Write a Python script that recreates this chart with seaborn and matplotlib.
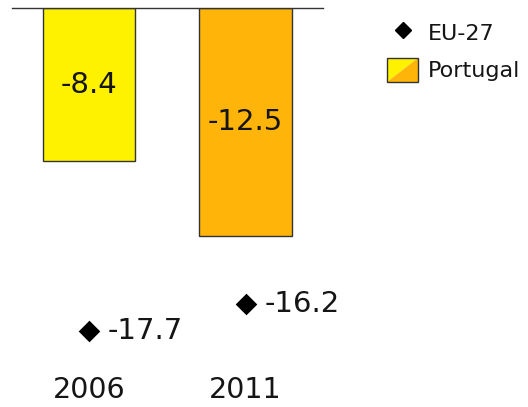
import matplotlib
matplotlib.use("Agg")
import matplotlib.pyplot as plt
import seaborn as sns
from matplotlib.lines import Line2D
from matplotlib.patches import Polygon, Rectangle
from matplotlib.legend_handler import HandlerBase

# ---- data ----
years = ["2006", "2011"]
portugal = [-8.4, -12.5]
eu27 = [-17.7, -16.2]
series_names = ["EU-27", "Portugal"]

YELLOW = "#FFF200"
ORANGE = "#FFB40A"
TXT = "#151515"

sns.set_style("white")
plt.rcParams["font.family"] = ["DejaVu Sans"]

W, H = 528, 407
fig = plt.figure(figsize=(W / 100, H / 100), dpi=100)
ax = fig.add_axes([12 / W, 1 - 370 / H, (323 - 12) / W, (370 - 8) / H])

sns.barplot(x=years, y=portugal, hue=years, palette=[YELLOW, ORANGE],
            width=0.59, edgecolor="#333333", linewidth=1.0, legend=False,
            saturation=1, ax=ax)
sns.stripplot(x=years, y=eu27, marker="D", color="black", jitter=False,
              size=11, linewidth=0, ax=ax)

for cont in ax.containers:
    ax.bar_label(cont, labels=[f"{v.get_height():.1f}" for v in cont],
                 label_type="center", fontsize=21, color=TXT)

for i, v in enumerate(eu27):
    ax.annotate(f"{v:.1f}", xy=(i, v), xytext=(13.5, 0), textcoords="offset points",
                ha="left", va="center", fontsize=21, color=TXT)

ax.set_xlim(-0.492, 1.495)
ax.set_ylim(-362 / 18.25, 0)
ax.set_xlabel("")
ax.set_ylabel("")
ax.set_yticks([])
ax.tick_params(axis="x", length=0, pad=4, labelsize=20.5, colors=TXT)
for s in ["left", "right", "bottom"]:
    ax.spines[s].set_visible(False)
ax.spines["top"].set_visible(True)
ax.spines["top"].set_color("#333333")
ax.spines["top"].set_linewidth(1.0)


class HandlerSplit(HandlerBase):
    def create_artists(self, legend, orig_handle, xdescent, ydescent,
                       width, height, fontsize, trans):
        x0, y0 = -xdescent, -ydescent
        up = Polygon([[x0, y0], [x0, y0 + height], [x0 + width, y0 + height]],
                     closed=True, facecolor=YELLOW, edgecolor="none", transform=trans)
        lo = Polygon([[x0, y0], [x0 + width, y0], [x0 + width, y0 + height]],
                     closed=True, facecolor=ORANGE, edgecolor="none", transform=trans)
        rect = Rectangle((x0, y0), width, height, facecolor="none",
                         edgecolor="#333333", linewidth=1.0, transform=trans)
        return [up, lo, rect]


eu_handle = Line2D([], [], marker="D", color="black", linestyle="", markersize=8.5)
pt_handle = Rectangle((0, 0), 1, 1)
fig.legend([eu_handle, pt_handle], series_names,
           handler_map={Rectangle: HandlerSplit()},
           loc="upper left", bbox_to_anchor=(387 / W, 1 - 20 / H),
           frameon=False, fontsize=16, handlelength=1.4, handleheight=1.3,
           handletextpad=0.45, labelspacing=0.6, borderpad=0, borderaxespad=0,
           labelcolor=TXT)

fig.savefig("out.png", dpi=100)
